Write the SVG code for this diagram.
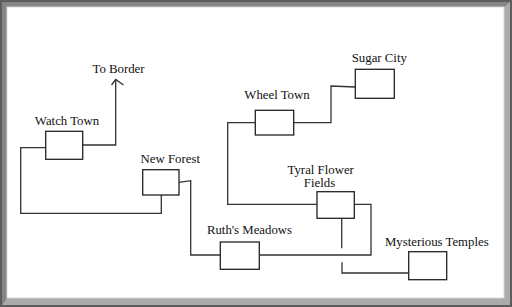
<svg xmlns="http://www.w3.org/2000/svg" width="512" height="307" viewBox="0 0 512 307">
<style>
.box{fill:#fff;stroke:#222;stroke-width:1.3}
.ln{fill:none;stroke:#333;stroke-width:1.3}
text{font-family:"Liberation Serif","Times New Roman",serif;font-size:12.8px;fill:#111;text-anchor:middle}
</style>
<rect x="0" y="0" width="512" height="307" fill="#5c5c5c"/>
<polygon points="2,2 510,2 504,7 7,7 7,298 2,305" fill="#858585"/>
<polygon points="510,2 510,305 2,305 7,298 504,298 504,7" fill="#ababab"/>
<rect x="7" y="7" width="497" height="291" fill="#fff" stroke="#d8d8d8" stroke-width="1"/>
<g id="connectors">
<polyline class="ln" points="83,145 115.7,145 115.7,80"/>
<polyline class="ln" points="111.5,85 115.7,79.5 123.5,85"/>
<polyline class="ln" points="49,147.7 20.7,147.7 20.7,213.3 161.3,213.3 161.3,195"/>
<polyline class="ln" points="179,182.3 190.7,180.7 190.7,255 220.3,255"/>
<polyline class="ln" points="259.3,255 371,255 371,204.3 354.3,204.3"/>
<polyline class="ln" points="317,204.3 227.7,204.3 227.7,122.7 255.3,122.7"/>
<polyline class="ln" points="293.7,122.7 331,122.7 331,86 355.3,87"/>
<line class="ln" x1="341.7" y1="218.3" x2="341.7" y2="248.3"/>
<polyline class="ln" points="342,262.3 342,273 408.7,273"/>
</g>
<g id="to-border"><text x="118.5" y="72.5">To Border</text></g>
<g id="watch-town"><rect class="box" x="45.7" y="131.3" width="37" height="28"/><text x="67" y="124.5">Watch Town</text></g>
<g id="new-forest"><rect class="box" x="142.7" y="169.7" width="36.3" height="25.3"/><text x="170.3" y="163">New Forest</text></g>
<g id="ruths-meadows"><rect class="box" x="220.3" y="242" width="39" height="27.3"/><text x="249.5" y="234.3">Ruth's Meadows</text></g>
<g id="wheel-town"><rect class="box" x="255.3" y="110.3" width="38.4" height="24.7"/><text x="277" y="99">Wheel Town</text></g>
<g id="sugar-city"><rect class="box" x="355.3" y="69.3" width="39" height="29"/><text x="379.3" y="61.5">Sugar City</text></g>
<g id="tyral-flower-fields"><rect class="box" x="317" y="191.7" width="37.3" height="26.6"/><text x="320.7" y="174">Tyral Flower</text><text x="319.5" y="187.3">Fields</text></g>
<g id="mysterious-temples"><rect class="box" x="408.7" y="251.7" width="38" height="28"/><text x="436.8" y="245.5">Mysterious Temples</text></g>
</svg>
